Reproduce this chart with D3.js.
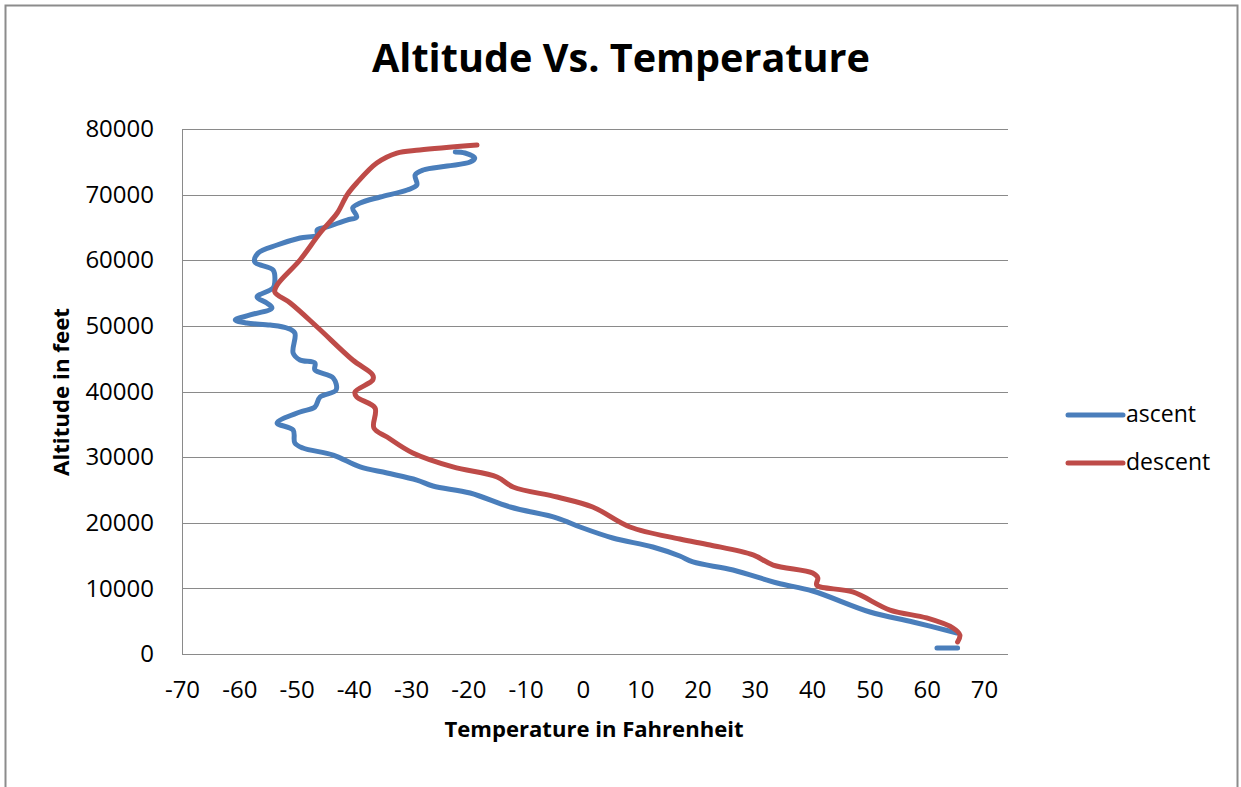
<!DOCTYPE html>
<html><head><meta charset="utf-8">
<script src="https://cdn.jsdelivr.net/npm/d3@7"></script>
<style>
html,body{margin:0;padding:0;background:#fff;}
svg{display:block;}
text{font-family:"Open Sans","Liberation Sans",sans-serif;fill:#000;}
</style></head>
<body><svg id="c" width="1241" height="787"></svg>
<script>
// Data (temperature in °F, altitude in feet)
const ascentTemp = [61.8,65.4,null,65.3,57.6,50.1,40.1,33.9,26.2,19.2,16.9,12.2,5.2,-0.5,-4.5,-12.7,-19.7,-26.2,-29.0,-34.2,-38.9,-43.6,-48.9,-50.3,-50.6,-53.4,-49.4,-46.8,-45.9,-43.1,-43.6,-46.8,-46.8,-49.4,-50.6,-50.3,-51.7,-54.6,-58.7,-60.7,-58.1,-54.3,-55.2,-56.9,-54.1,-53.8,-54.1,-57.3,-56.7,-53.4,-49.4,-46.4,-46.4,-44.7,-41.2,-39.5,-40.2,-38.9,-35.4,-30.7,-29.0,-29.3,-27.9,-23.7,-19.7,-18.9,-20.6,-22.3];
const ascentAlt  = [910,910,null,3200,4880,6400,9600,10820,12800,14020,14930,16300,17680,19350,20720,22400,24530,25600,26510,27580,28500,30320,31390,32150,34130,35200,36880,37640,39160,40230,42060,43280,44340,44800,45870,48910,49680,50130,50440,50900,51660,52720,53490,54400,55770,56690,58510,59730,61100,62320,63390,63850,64610,65070,66130,66590,67960,68720,69640,70700,71470,72990,73750,74360,74970,75580,76340,76500];
const descentTemp = [-18.5,-28.5,-32.5,-36.0,-39.5,-41.2,-42.9,-45.9,-49.4,-53.4,-53.8,-51.1,-46.4,-40.2,-36.7,-36.7,-39.8,-39.5,-36.3,-36.5,-34.2,-29.7,-22.7,-15.0,-12.2,-4.5,1.7,8.2,16.9,22.2,29.7,33.2,40.1,41.0,40.8,47.1,53.6,60.0,64.6,65.8,65.4];
const descentAlt  = [77560,76800,76340,74820,71770,69940,67200,64150,60040,56230,55160,53490,49830,44800,42510,41750,39920,39160,37490,34440,33070,30630,28500,26970,25450,23920,22400,19350,17520,16610,15090,13560,12340,11580,10510,9450,6700,5490,3960,2900,1830];
const xTicks = [-70,-60,-50,-40,-30,-20,-10,0,10,20,30,40,50,60,70];
const yTicks = [0,10000,20000,30000,40000,50000,60000,70000,80000];
const seriesNames = ["ascent","descent"];
const seriesColors = ["#4A7EBB","#BE4B48"];

const svg = d3.select("#c");
const L = 182, R = 1008, T = 129, B = 654;
const x = d3.scaleLinear().domain([-70, 74.2]).range([L, R]);
const y = d3.scaleLinear().domain([0, 80000]).range([B, T]);

// chart border
svg.append("rect").attr("x",5.5).attr("y",5.5).attr("width",1232).attr("height",800)
  .attr("fill","#fff").attr("stroke","#8c8c8c").attr("stroke-width",2);

// gridlines
svg.append("g").selectAll("line").data(yTicks.filter(d=>d>0)).join("line")
  .attr("x1",L).attr("x2",R).attr("y1",d=>Math.round(y(d))+0.5).attr("y2",d=>Math.round(y(d))+0.5)
  .attr("stroke","#8a8a8a").attr("stroke-width",1);
// axes lines
svg.append("line").attr("x1",L).attr("x2",R).attr("y1",B+0.5).attr("y2",B+0.5).attr("stroke","#8a8a8a");
svg.append("line").attr("x1",L+0.5).attr("x2",L+0.5).attr("y1",T).attr("y2",B).attr("stroke","#8a8a8a");

// y tick labels
const yAxis = d3.axisLeft(y).tickValues(yTicks).tickSize(0).tickPadding(28).tickFormat(d=>String(d));
const gy = svg.append("g").attr("transform",`translate(${L},0)`).call(yAxis);
gy.select(".domain").remove();
gy.selectAll("text").style("font-size","24px").style("font-family","'Open Sans',sans-serif").attr("fill","#000");

// x tick labels
const xAxis = d3.axisBottom(x).tickValues(xTicks).tickSize(0).tickPadding(27).tickFormat(d=>String(d));
const gx = svg.append("g").attr("transform",`translate(0,${B})`).call(xAxis);
gx.select(".domain").remove();
gx.selectAll("text").style("font-size","24px").style("font-family","'Open Sans',sans-serif").attr("fill","#000");

// lines
function pts(tx, al){ return tx.map((t,i)=>({t:t, a:al[i]})); }
const line = d3.line().defined(d=>d.t!==null && d.a!==null)
  .x(d=>x(d.t)).y(d=>y(d.a)).curve(d3.curveCatmullRom.alpha(0.5));
const series = [pts(ascentTemp,ascentAlt), pts(descentTemp,descentAlt)];
svg.append("g").selectAll("path").data(series).join("path")
  .attr("d",line).attr("fill","none")
  .attr("stroke",(d,i)=>seriesColors[i]).attr("stroke-width",5)
  .attr("stroke-linecap","round").attr("stroke-linejoin","round");

// title
svg.append("text").attr("x",621).attr("y",72).attr("text-anchor","middle")
  .attr("textLength",498).attr("lengthAdjust","spacingAndGlyphs")
  .style("font-size","40px").style("font-weight","bold").text("Altitude Vs. Temperature");
// axis titles
svg.append("text").attr("x",594).attr("y",737).attr("text-anchor","middle")
  .attr("textLength",299).attr("lengthAdjust","spacingAndGlyphs")
  .style("font-size","21px").style("font-weight","bold").text("Temperature in Fahrenheit");
svg.append("text").attr("transform","translate(69,392) rotate(-90)").attr("text-anchor","middle")
  .attr("textLength",168).attr("lengthAdjust","spacingAndGlyphs")
  .style("font-size","21px").style("font-weight","bold").text("Altitude in feet");

// legend
const lg = svg.append("g").selectAll("g").data(seriesNames).join("g")
  .attr("transform",(d,i)=>`translate(1068,${415+i*48})`);
lg.append("line").attr("x1",0).attr("x2",55).attr("y1",0).attr("y2",0)
  .attr("stroke",(d,i)=>seriesColors[i]).attr("stroke-width",5).attr("stroke-linecap","round");
lg.append("text").attr("x",58).attr("y",7).style("font-size","23px").text(d=>d);
</script></body></html>
